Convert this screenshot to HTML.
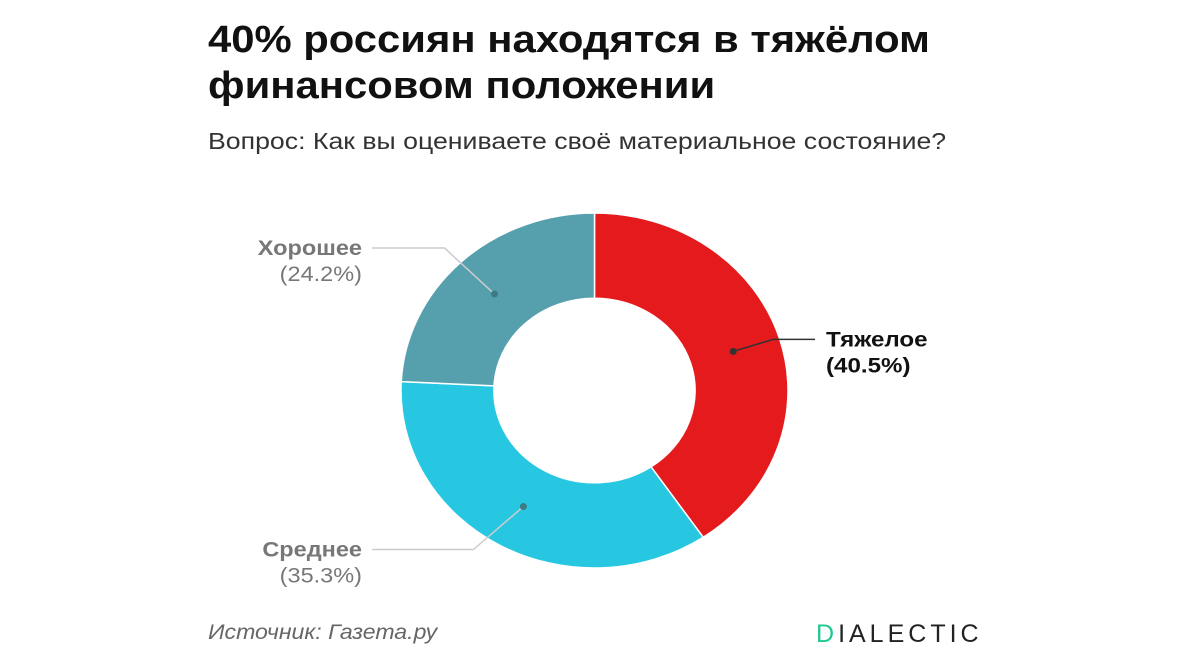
<!DOCTYPE html>
<html><head><meta charset="utf-8"><style>
body{margin:0;width:1200px;height:655px;background:#fff;overflow:hidden;font-family:"Liberation Sans","Noto Sans CJK SC",sans-serif;position:relative}
.t{position:absolute;left:208px;top:17px;font-size:38px;font-weight:bold;color:#111;line-height:46px;transform:scaleX(1.1);transform-origin:0 0;white-space:nowrap}
.s{position:absolute;left:208px;top:128px;font-size:23px;color:#333;transform:scaleX(1.16);transform-origin:0 0;white-space:nowrap}
.src{position:absolute;left:208px;top:621px;font-size:21px;font-style:italic;color:#666;transform:scaleX(1.1);transform-origin:0 0;white-space:nowrap}
.logo{position:absolute;left:816px;top:620px;font-size:25px;letter-spacing:4px;color:#222}
.logo b{color:#1fc98e;font-weight:normal}
</style></head><body>
<div class="t">40% россиян находятся в тяжёлом<br>финансовом положении</div>
<div class="s">Вопрос: Как вы оцениваете своё материальное состояние?</div>
<svg id="c" width="1200" height="655" style="position:absolute;left:0;top:0"></svg>
<div class="src">Источник: Газета.ру</div>
<div class="logo"><b>D</b>IALECTIC</div>
<script>
const categories=["Тяжелое","Среднее","Хорошее"];
const values=[40.5,35.3,24.2];
const labels=["(40.5%)","(35.3%)","(24.2%)"];
const colors=["#e41a1c","#27c7e2","#56a0ae"];
const cx=594.5,cy=390.5,rx=193.5,ry=177.5,ir=0.52;
const svg=document.getElementById('c');const NS="http://www.w3.org/2000/svg";
const tot=values.reduce((a,b)=>a+b,0);
function pt(f,r){const a=f*2*Math.PI;return [cx+Math.sin(a)*rx*r,cy-Math.cos(a)*ry*r];}
let acc=0;
values.forEach((v,i)=>{
 const f0=acc/tot,f1=(acc+v)/tot;acc+=v;
 const large=(f1-f0)>0.5?1:0;
 const [x0,y0]=pt(f0,1),[x1,y1]=pt(f1,1),[x2,y2]=pt(f1,ir),[x3,y3]=pt(f0,ir);
 const p=document.createElementNS(NS,'path');
 p.setAttribute('d',`M${x0},${y0}A${rx},${ry} 0 ${large} 1 ${x1},${y1}L${x2},${y2}A${rx*ir},${ry*ir} 0 ${large} 0 ${x3},${y3}Z`);
 p.setAttribute('fill',colors[i]);p.setAttribute('stroke','#fff');p.setAttribute('stroke-width','1.5');
 
 
 svg.appendChild(p);
 const fm=(f0+f1)/2;const [dx,dy]=pt(fm,0.75);
 const right=Math.sin(fm*2*Math.PI)>0;
 const ly=right?dy-12:(Math.cos(fm*2*Math.PI)>0?dy-46:dy+43);
 const ex=right?dx+40:dx-50, lx=right?815:372;
 const l=document.createElementNS(NS,'polyline');
 l.setAttribute('points',`${dx},${dy} ${ex},${ly} ${lx},${ly}`);
 l.setAttribute('fill','none');l.setAttribute('stroke',right?'#333':'#ccc');l.setAttribute('stroke-width','1.5');
 
 
 svg.appendChild(l);
 const d=document.createElementNS(NS,'circle');d.setAttribute('cx',dx);d.setAttribute('cy',dy);d.setAttribute('r',3.5);d.setAttribute('fill',right?'#333':'#3d7a86');
 
 
 svg.appendChild(d);
 const col=right?'#111':'#777';
 const sx=right?1.15:1.12;
 [categories[i],labels[i]].forEach((s,k)=>{
  const t=document.createElementNS(NS,'text');
  t.setAttribute('x',0);t.setAttribute('y',0);
  t.setAttribute('transform',`translate(${right?826:362},${ly+7+k*26}) scale(${sx},1)`);
  t.setAttribute('text-anchor',right?'start':'end');t.setAttribute('font-size','21');
  t.setAttribute('fill',col);if(k==0||right)t.setAttribute('font-weight','bold');
  t.textContent=s;
  
  
  svg.appendChild(t);
 });
});
</script>
</body></html>
